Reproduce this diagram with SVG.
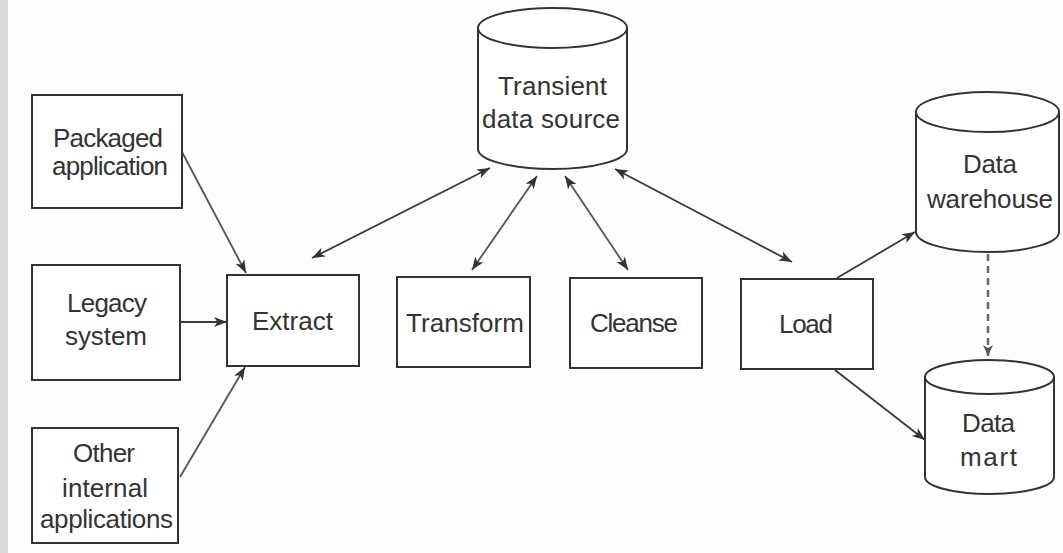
<svg xmlns="http://www.w3.org/2000/svg" width="1063" height="553" viewBox="0 0 1063 553">
  <style>
    .box { fill: #ffffff; stroke: #333333; stroke-width: 2; }
    .db { fill: #ffffff; stroke: #333333; stroke-width: 2; }
    .lbl { font-family: "Liberation Sans", Arial, sans-serif; font-size: 26px; fill: #333333; text-anchor: middle; }
    .link { fill: none; stroke: #3a3a3a; stroke-width: 1.8; }
    .light { stroke: #555555; }
    .dash { fill: none; stroke: #666666; stroke-width: 2.5; stroke-dasharray: 7 5; }
  </style>
  <defs>
    <marker id="tip" markerUnits="userSpaceOnUse" markerWidth="14" markerHeight="12" refX="13" refY="5" orient="auto-start-reverse" viewBox="0 0 14 10">
      <path d="M0,0 L13,5 L0,10 L3.5,5 Z" fill="#333333"/>
    </marker>
    <marker id="tipGray" markerUnits="userSpaceOnUse" markerWidth="12" markerHeight="12" refX="11" refY="5" orient="auto" viewBox="0 0 12 10">
      <path d="M0,0 L11,5 L0,10 L3,5 Z" fill="#555555"/>
    </marker>
  </defs>

  <!-- page -->
  <rect x="0" y="0" width="1063" height="553" fill="#fdfdfd"/>
  <rect x="0" y="0" width="8" height="553" fill="#dadada"/>

  <!-- connectors -->
  <g id="connectors">
    <line class="link light" x1="182" y1="152" x2="246" y2="273" marker-end="url(#tip)"/>
    <line class="link" x1="180" y1="322" x2="227" y2="322" marker-end="url(#tip)"/>
    <line class="link light" x1="180" y1="477" x2="245" y2="367" marker-end="url(#tip)"/>
    <line class="link" x1="312" y1="258" x2="490" y2="168" marker-start="url(#tip)" marker-end="url(#tip)"/>
    <line class="link light" x1="472" y1="270" x2="537" y2="176" marker-start="url(#tip)" marker-end="url(#tip)"/>
    <line class="link light" x1="628" y1="270" x2="565" y2="176" marker-start="url(#tip)" marker-end="url(#tip)"/>
    <line class="link" x1="792" y1="262" x2="615" y2="169" marker-start="url(#tip)" marker-end="url(#tip)"/>
    <line class="link" x1="837" y1="278" x2="915" y2="232" marker-end="url(#tip)"/>
    <line class="link" x1="835" y1="370" x2="925" y2="440" marker-end="url(#tip)"/>
    <line class="dash" x1="988" y1="254" x2="988" y2="356" marker-end="url(#tipGray)"/>
  </g>

  <!-- source systems -->
  <g id="packaged-application">
    <rect class="box" x="32" y="95" width="150" height="113"/>
    <text class="lbl" x="108" y="147" textLength="110">Packaged</text>
    <text class="lbl" x="110" y="175" textLength="116">application</text>
  </g>
  <g id="legacy-system">
    <rect class="box" x="32" y="265" width="148" height="115"/>
    <text class="lbl" x="107" y="312" textLength="80">Legacy</text>
    <text class="lbl" x="106" y="345" textLength="82">system</text>
  </g>
  <g id="other-internal-applications">
    <rect class="box" x="32" y="428" width="146" height="115"/>
    <text class="lbl" x="104" y="462" textLength="62">Other</text>
    <text class="lbl" x="105" y="497" textLength="86">internal</text>
    <text class="lbl" x="106.5" y="528" textLength="133">applications</text>
  </g>

  <!-- ETL steps -->
  <g id="extract">
    <rect class="box" x="227" y="275" width="132" height="91"/>
    <text class="lbl" x="292.5" y="330" textLength="81">Extract</text>
  </g>
  <g id="transform">
    <rect class="box" x="397" y="277" width="133" height="90"/>
    <text class="lbl" x="465" y="332" textLength="118">Transform</text>
  </g>
  <g id="cleanse">
    <rect class="box" x="570" y="278" width="132" height="90"/>
    <text class="lbl" x="634" y="332" textLength="88">Cleanse</text>
  </g>
  <g id="load">
    <rect class="box" x="741" y="279" width="132" height="90"/>
    <text class="lbl" x="806" y="333" textLength="54">Load</text>
  </g>

  <!-- data stores -->
  <g id="transient-data-source">
    <path class="db" d="M478,28 V149 A74.5,20 0 0 0 627,149 V28"/>
    <ellipse class="db" cx="552.5" cy="28" rx="74.5" ry="20"/>
    <text class="lbl" x="552.5" y="95" textLength="109">Transient</text>
    <text class="lbl" x="551" y="128" textLength="138">data source</text>
  </g>
  <g id="data-warehouse">
    <path class="db" d="M916,112 V232 A71.5,20 0 0 0 1059,232 V112"/>
    <ellipse class="db" cx="987.5" cy="112" rx="71.5" ry="20"/>
    <text class="lbl" x="990" y="173" textLength="54">Data</text>
    <text class="lbl" x="990" y="208" textLength="126">warehouse</text>
  </g>
  <g id="data-mart">
    <path class="db" d="M925,377 V477 A64.5,17 0 0 0 1054,477 V377"/>
    <ellipse class="db" cx="989.5" cy="377" rx="64.5" ry="17"/>
    <text class="lbl" x="988.5" y="432" textLength="53">Data</text>
    <text class="lbl" x="988.5" y="466" textLength="57">mart</text>
  </g>
</svg>
